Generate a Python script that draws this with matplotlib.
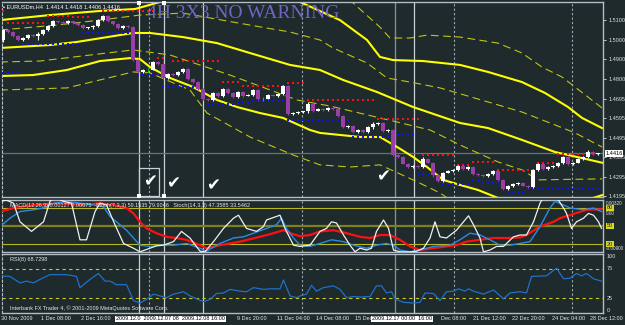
import matplotlib.pyplot as plt
import matplotlib.transforms as mtransforms
import numpy as np

plt.rcParams['font.family'] = ['Liberation Sans', 'DejaVu Sans']

#%% PODATKI - EURUSD H4, 120 svec

zacetek = 1.4998  # open prve svece
zapiranja = [1.5049, 1.5039, 1.5018, 1.4998, 1.5008, 1.5023, 1.5018, 1.5029, 1.5049, 1.5070,
             1.5095, 1.5090, 1.5085, 1.5095, 1.5085, 1.5075, 1.5059, 1.5064, 1.5070, 1.5100,
             1.5121, 1.5095, 1.5080, 1.5059, 1.5070, 1.5064, 1.4895, 1.4834, 1.4844, 1.4846,
             1.4885, 1.4875, 1.4803, 1.4823, 1.4818, 1.4834, 1.4849, 1.4798, 1.4782, 1.4746,
             1.4695, 1.4690, 1.4726, 1.4711, 1.4746, 1.4726, 1.4705, 1.4731, 1.4711, 1.4716,
             1.4741, 1.4695, 1.4697, 1.4716, 1.4711, 1.4721, 1.4762, 1.4618, 1.4623, 1.4628,
             1.4631, 1.4670, 1.4634, 1.4644, 1.4639, 1.4649, 1.4644, 1.4608, 1.4552, 1.4557,
             1.4526, 1.4536, 1.4526, 1.4552, 1.4567, 1.4572, 1.4531, 1.4536, 1.4408, 1.4398,
             1.4362, 1.4346, 1.4351, 1.4346, 1.4387, 1.4367, 1.4305, 1.4274, 1.4316, 1.4326,
             1.4331, 1.4351, 1.4336, 1.4346, 1.4310, 1.4305, 1.4300, 1.4310, 1.4326, 1.4280,
             1.4233, 1.4249, 1.4259, 1.4264, 1.4249, 1.4244, 1.4331, 1.4362, 1.4336, 1.4346,
             1.4351, 1.4367, 1.4398, 1.4362, 1.4367, 1.4387, 1.4398, 1.4425, 1.4414, 1.4416]

# senci (pipi)
senca_gor = [6, 4, 3, 5, 4, 6, 5, 8, 4, 5, 6, 3, 5, 4, 3, 4, 5, 3, 4, 6,
             5, 4, 3, 4, 5, 3, 4, 3, 5, 8, 6, 4, 3, 5, 4, 3, 6, 4, 3, 4,
             3, 5, 6, 4, 7, 4, 3, 5, 4, 3, 6, 4, 8, 3, 4, 3, 5, 3, 4, 6,
             3, 8, 4, 3, 4, 3, 4, 3, 5, 4, 3, 4, 3, 6, 9, 4, 3, 4, 3, 4,
             5, 3, 4, 3, 8, 4, 3, 4, 5, 3, 4, 6, 3, 7, 4, 3, 5, 4, 3, 4,
             3, 5, 3, 4, 3, 4, 6, 5, 4, 3, 4, 6, 5, 4, 3, 5, 4, 6, 4, 2]
senca_dol = [12, 5, 4, 6, 3, 5, 4, 22, 5, 4, 4, 5, 3, 6, 4, 5, 3, 4, 8, 4,
             3, 5, 4, 6, 3, 4, 5, 6, 3, 8, 4, 5, 6, 4, 3, 5, 4, 3, 6, 4,
             5, 3, 4, 6, 4, 3, 5, 4, 6, 3, 4, 6, 8, 4, 3, 5, 4, 6, 3, 4,
             5, 6, 4, 3, 5, 4, 3, 6, 4, 5, 4, 3, 5, 4, 12, 3, 4, 5, 6, 4,
             3, 5, 4, 6, 4, 3, 8, 6, 4, 3, 5, 4, 3, 6, 4, 5, 3, 4, 6, 5,
             4, 3, 5, 4, 3, 4, 5, 4, 3, 5, 4, 3, 5, 4, 6, 3, 4, 5, 4, 8]
doji = [29, 52]

# odpori (rdece) in podpore (modre): od, do, cena
odpori = [(0, 0, 1.5147), (1, 8, 1.5085), (9, 13, 1.5121), (14, 17, 1.5116), (20, 30, 1.5147),
          (31, 32, 1.4905), (34, 43, 1.4890), (44, 47, 1.4782), (48, 56, 1.4762), (57, 60, 1.4777),
          (61, 74, 1.4690), (75, 83, 1.4593), (84, 90, 1.4408), (91, 93, 1.4357), (94, 98, 1.4372),
          (99, 106, 1.4331), (107, 110, 1.4367), (111, 119, 1.4413)]
podpore = [(0, 3, 1.4829), (4, 15, 1.4977), (16, 25, 1.5034), (27, 31, 1.4823), (32, 39, 1.4757),
           (41, 46, 1.4670), (47, 49, 1.4675), (50, 56, 1.4685), (57, 69, 1.4587), (70, 77, 1.4500),
           (78, 82, 1.4510), (83, 86, 1.4305), (88, 93, 1.4259), (94, 95, 1.4280), (96, 100, 1.4264),
           (101, 104, 1.4213), (105, 119, 1.4233)]

# rumene krivulje (svecka, cena)
A_x = [-0.6, 9.4, 19.4, 26.4, 31.4, 39.4, 51.4, 57.4, 59.4, 67.4, 72.8, 75.4, 78, 84, 91.4, 97, 103.8, 108.4, 113, 115.8, 119.8]
A_y = [1.5100, 1.5126, 1.5147, 1.5157, 1.5193, 1.5244, 1.5244, 1.5213, 1.5193, 1.5100, 1.4998, 1.4911, 1.4895, 1.4890,
       1.4870, 1.4834, 1.4782, 1.4726, 1.4654, 1.4598, 1.4546]
B_x = [-0.6, 9.4, 14.8, 26, 29.4, 36, 42.8, 49.4, 57.4, 63.4, 68, 74.8, 82, 91.4, 97, 103.8, 110.4, 120]
B_y = [1.4957, 1.4972, 1.4988, 1.5034, 1.5034, 1.5013, 1.4982, 1.4931, 1.4870, 1.4844, 1.4793, 1.4731, 1.4654,
       1.4572, 1.4546, 1.4485, 1.4423, 1.4367]
C_x = [-0.6, 6, 12.8, 19.4, 25.4, 27.4, 29.4, 33.4, 38, 42.8, 46.8, 51.4, 56, 61.4, 63.4, 71.4, 75.4, 78.8, 82,
       84.8, 88, 91.4, 95, 99, 105.4, 113.4, 119.4, 120]
C_y = [1.4813, 1.4818, 1.4844, 1.4890, 1.4905, 1.4900, 1.4859, 1.4803, 1.4757, 1.4690, 1.4654, 1.4623, 1.4598,
       1.4536, 1.4521, 1.4500, 1.4500, 1.4449, 1.4398, 1.4346, 1.4280, 1.4254, 1.4228, 1.4187, 1.4151, 1.4151,
       1.4198, 1.4203]
D1_x = [68.4, 69.8, 75.4, 77.4, 81.4, 84.8, 91.4, 99, 103.8, 107.8, 111.8, 117, 119.8]
D1_y = [1.5229, 1.5193, 1.5064, 1.5008, 1.5008, 1.5023, 1.5013, 1.4982, 1.4931, 1.4859, 1.4808, 1.4705, 1.4649]
D2_x = [-0.6, 10.8, 19.4, 27.4, 36, 46, 52.8, 57.4, 63.4, 66, 72.8, 76.8, 81.4, 87.4, 97, 103.8, 110.4, 114.4, 119.8]
D2_y = [1.5049, 1.5075, 1.5100, 1.5126, 1.5136, 1.5090, 1.5059, 1.5039, 1.4998, 1.4957, 1.4880, 1.4803, 1.4782,
        1.4752, 1.4680, 1.4628, 1.4562, 1.4521, 1.4449]
D3_x = [-0.6, 7.4, 26, 33.4, 45.4, 58.8, 65.4, 78.8, 85.4, 91.4, 99, 103.8, 107, 119.8]
D3_y = [1.4885, 1.4890, 1.4947, 1.4921, 1.4818, 1.4690, 1.4659, 1.4577, 1.4536, 1.4459, 1.4372, 1.4331, 1.4280, 1.4285]
D4_x = [-0.6, 12.8, 26, 29.4, 37.4, 40.8, 49.4, 58, 63.4, 69.4, 75.4, 82, 87.4, 89.4]
D4_y = [1.4741, 1.4752, 1.4834, 1.4829, 1.4741, 1.4623, 1.4500, 1.4408, 1.4357, 1.4346, 1.4357, 1.4280, 1.4213, 1.4177]

# stohastika (svecka, vrednost)
bela_x = [-0.6, 0.7, 2.1, 3.4, 5.7, 8.1, 9.4, 10.4, 12.1, 13.7, 15.4, 16.7, 18.4, 19.4, 20.7, 22.4, 24.1, 26.1,
          27.4, 29.4, 30.7, 32.1, 34.1, 35.7, 37.4, 39.4, 40.4, 42.1, 44.1, 46.1, 47.1, 48.7, 50.7, 52.1, 52.7,
          55.4, 56.4, 58.1, 59.4, 61.4, 63.4, 64.7, 65.7, 66.7, 68.1, 69.4, 70.4, 71.4, 72.7, 73.7, 74.7, 76.1,
          77.1, 78.1, 79.4, 81.4, 82.7, 84.1, 85.4, 86.4, 87.4, 88.7, 90.7, 92.1, 93.1, 94.1, 95.4, 96.1, 97.4,
          98.7, 100.1, 102.1, 103.4, 104.7, 106.1, 107.4, 108.1, 110.7, 112.1, 112.7, 113.7, 114.7, 116.1,
          117.1, 118.1, 119.1, 119.7]
bela_y = [91, 93, 88, 57, 41, 57, 91, 98, 91, 88, 27, 27, 74, 88, 85, 52, 21, 13, 7, 13, 17, 18, 24, 41, 30, 8, 7,
          24, 46, 63, 68, 46, 41, 49, 60, 68, 46, 18, 16, 18, 41, 46, 57, 55, 35, 18, 7, 13, 10, 13, 41, 60, 46,
          10, 7, 7, 8, 13, 30, 57, 32, 30, 43, 57, 67, 52, 30, 7, 10, 16, 16, 32, 35, 35, 57, 88, 98, 98, 80,
          71, 46, 57, 63, 71, 68, 57, 46]
rdeca_x = [-0.6, 2.1, 6.1, 11.4, 16.1, 19.4, 22.1, 24.7, 26.1, 27.4, 28.7, 30.7, 32.7, 34.7, 36.7, 39.4, 40.7,
           43.4, 47.4, 51.4, 54.1, 56.1, 57.4, 59.4, 61.4, 63.4, 66.1, 68.7, 71.4, 73.4, 75.4, 77.4, 79.4, 81.4,
           83.4, 86.1, 88.7, 90.7, 92.7, 95.4, 98.1, 100.7, 103.4, 104.7, 107.4, 110.1, 111.4, 114.1, 116.7, 119.7]
rdeca_y = [74, 80, 85, 88, 85, 88, 85, 80, 71, 57, 46, 38, 32, 30, 27, 18, 13, 18, 24, 32, 38, 43, 38, 33, 35, 41,
           43, 38, 32, 30, 35, 35, 27, 16, 10, 13, 16, 18, 24, 27, 30, 30, 31, 35, 49, 57, 63, 70, 77, 78]
modra_x = [-0.6, 1.4, 3.4, 6.1, 8.1, 10.1, 12.7, 15.4, 18.1, 20.1, 21.4, 23.4, 24.7, 26.1, 27.4, 29.4, 31.4,
           34.1, 36.7, 39.4, 40.7, 43.4, 46.1, 48.1, 50.1, 52.7, 54.7, 55.7, 56.7, 58.1, 59.4, 61.4, 63.4, 65.7,
           68.1, 70.1, 72.7, 74.7, 76.7, 78.1, 79.4, 81.4, 83.4, 86.1, 89.4, 91.4, 93.4, 95.4, 97.4, 99.4, 101.4,
           103.4, 105.4, 107.4, 109.4, 110.4, 112.1, 113.4, 116.1, 118.1, 119.7]
modra_y = [49, 63, 74, 77, 80, 88, 91, 88, 85, 82, 66, 52, 43, 30, 18, 16, 18, 18, 21, 13, 8, 21, 30, 32, 38, 46,
           52, 63, 46, 30, 18, 16, 21, 27, 24, 18, 13, 18, 21, 18, 10, 7, 10, 16, 18, 27, 38, 35, 27, 18, 18, 21,
           24, 49, 80, 91, 85, 80, 77, 80, 74]

# RSI(8)
rsi_x = [-0.6, 1.4, 3.4, 4.7, 6.1, 7.4, 9.4, 12.7, 14.7, 15.4, 17.4, 19.1, 20.4, 21.4, 22.7, 24.7, 26.1, 27.4,
         28.7, 30.1, 31.4, 32.7, 34.1, 36.1, 37.4, 38.7, 40.1, 41.4, 42.7, 44.1, 45.4, 47.4, 48.7, 50.1, 52.1,
         53.4, 55.4, 56.1, 57.4, 58.7, 59.4, 60.7, 61.7, 62.7, 64.1, 66.1, 67.4, 68.7, 70.1, 71.4, 73.4, 74.7,
         75.7, 76.7, 77.7, 78.4, 80.1, 82.1, 83.4, 84.4, 86.1, 87.4, 88.7, 90.1, 91.1, 92.4, 93.1, 94.1, 96.1,
         98.1, 100.1, 101.4, 103.4, 104.7, 105.7, 108.7, 110.7, 112.1, 113.4, 114.7, 115.7, 116.7, 118.1, 119.7]
rsi_y = [63, 62, 51, 54, 51, 57, 65, 65, 62, 43, 57, 67, 54, 54, 48, 48, 21, 17, 23, 32, 29, 26, 32, 36, 29, 24,
         19, 23, 33, 34, 40, 37, 36, 43, 40, 41, 41, 56, 29, 26, 29, 32, 47, 37, 43, 46, 40, 26, 28, 27, 28, 46,
         46, 34, 36, 24, 18, 17, 18, 34, 33, 21, 36, 37, 41, 37, 41, 37, 32, 39, 24, 34, 36, 34, 62, 63, 76, 58,
         59, 67, 63, 67, 58, 54]

# cenovna os in casovna os
cene_ticks = [1.5100, 1.5000, 1.4900, 1.4800, 1.4695, 1.4595, 1.4495, 1.4395, 1.4295, 1.4195]
cas_pos = [-0.4, 7.6, 15.6, 46.8, 54.8, 62.6, 70.4, 87.6, 94.0, 101.8, 109.8, 117.4]
cas_txt = ['30 Nov 2009', '1 Dec 08:00', '2 Dec 16:00', '9 Dec 20:00', '11 Dec 04:00', '14 Dec 08:00',
           '15 Dec', 'Dec 08:00', '21 Dec 12:00', '22 Dec 20:00', '24 Dec 04:00', '28 Dec 12:00']

# oznake na grafu
vert_polne = [27.2, 32.2, 40.0, 82.2]
vert_sive = [78.4]
vert_crt = [29.2, 59.8, 90.2, 113.8]
kljukice_x = [29.4, 34.0, 42.0, 76.0]
kljukice_y = [1.4274, 1.4264, 1.4249, 1.4300]
zadnja = 1.4416

#%% IZRIS

bg = '#1e2a2c'
siva = '#b4bcc4'
fs = 4

fig = plt.figure(figsize=(6.25, 3.25), dpi=100, facecolor=bg)

def okno(top, bottom):
    a = fig.add_axes([2/625, 1 - bottom/325, 601/625, (bottom - top)/325])
    a.set_facecolor(bg)
    a.set_xlim(-0.2, 120)
    a.set_xticks([])
    for s in ['top', 'bottom', 'right']:
        a.spines[s].set_color(siva)
        a.spines[s].set_linewidth(1.0)
    a.spines['left'].set_color(siva)
    a.spines['left'].set_linestyle((0, (2, 2)))
    a.spines['left'].set_linewidth(0.8)
    return a

ax = okno(2, 197)
ax_st = okno(200, 252)
ax_rsi = okno(254, 313)

# navpicne crte
for a in (ax, ax_st, ax_rsi):
    for v in vert_polne:
        a.axvline(v, color='#c8d0d8', lw=0.9, zorder=1)
    for v in vert_sive:
        a.axvline(v, color='#828c92', lw=1.0, zorder=1)
    for v in vert_crt:
        a.axvline(v, color='#a0a8b0', lw=0.8, ls=(0, (2, 2)), zorder=1)

# glavni graf
ax.set_ylim(1.4192, 1.5193)
ax.axhline(zadnja, color='#6a7478', lw=0.9, zorder=1)

for xs, ys in [(D1_x, D1_y), (D2_x, D2_y), (D3_x, D3_y), (D4_x, D4_y)]:
    ax.plot(xs, ys, color='#c4c412', lw=0.8, ls=(0, (7, 4)), zorder=2)
for xs, ys in [(A_x, A_y), (B_x, B_y), (C_x, C_y)]:
    ax.plot(xs, ys, color='#ffff00', lw=1.5, zorder=2)

for a0, a1, p in odpori:
    xx = np.arange(a0, a1 + 1)
    ax.plot(xx, [p] * len(xx), 's', ms=2.0, mew=0, color='#ff1010', zorder=3)
for a0, a1, p in podpore:
    xx = np.arange(a0, a1 + 1)
    ax.plot(xx, [p] * len(xx), 's', ms=2.0, mew=0, color='#1010ff', zorder=3)

c = np.array(zapiranja)
o = np.concatenate([[zacetek], c[:-1]])
hi = np.maximum(o, c) + np.array(senca_gor) * 0.0001
lo = np.minimum(o, c) - np.array(senca_dol) * 0.0001
xb = np.arange(len(c))
barve = np.where(c >= o, '#ffffff', '#9a3ea8').astype(object)
for d in doji:
    barve[d] = '#00d000'
ax.vlines(xb, lo, hi, colors=list(barve), lw=0.8, zorder=4)
visina = np.where(np.abs(c - o) < 0.0002, 0.0002, np.abs(c - o))
ax.bar(xb, visina, bottom=np.minimum(o, c), width=0.62, color=list(barve), lw=0, zorder=5)

ax.yaxis.tick_right()
ax.set_yticks(cene_ticks)
ax.set_yticklabels(['%.4f' % t for t in cene_ticks])
ax.tick_params(axis='y', colors='#e0e0e0', labelsize=fs, length=2, width=0.6, pad=2)
ax.text(1.004, (zadnja - 1.4192) / (1.5193 - 1.4192), '1.4416', transform=ax.transAxes, fontsize=fs,
        color='black', va='center', ha='left',
        bbox=dict(boxstyle='square,pad=0.15', fc='white', ec='none'))

# pravokotnik in kljukice
ax.add_patch(plt.Rectangle((27.2, 1.4197), 4.0, 0.0144, fill=False, ec='#c8d0d8', lw=0.9, zorder=6))
for xv in [27.2, 32.2]:
    ax.plot([xv, xv], [1.5190, 1.4196], 's', ms=2.2, color='white', mew=0, zorder=7, clip_on=False)
for kx, ky in zip(kljukice_x, kljukice_y):
    ax.text(kx, ky, '\u2714', color='white', fontsize=12, ha='center', va='center', zorder=7,
            family='DejaVu Sans')

fig.text(3/625, 1 - 7/325, '\u25aa EURUSDm,H4  1.4414 1.4418 1.4406 1.4416', color='white', fontsize=fs,
         va='center', ha='left')
fig.text(147/625, 1 - 13/325, '4H 3X3 NO WARNING', color='#7064c4', fontsize=14,
         family='Liberation Serif', va='center', ha='left')

# stohastika
ax_st.set_ylim(6.7, 93.3)
ax_st.axhline(80, color='#b8b820', lw=0.8)
ax_st.axhline(50, color='#80801a', lw=1.6)
ax_st.axhline(20, color='#b8b820', lw=0.8)
ax_st.plot(rdeca_x, rdeca_y, color='#ff1010', lw=1.6, zorder=3)
ax_st.plot(modra_x, modra_y, color='#2a8ae8', lw=1.0, zorder=4)
ax_st.plot(bela_x, bela_y, color='#f0f0f0', lw=0.9, zorder=5)
ax_st.set_yticks([])
ax_st.text(0.014, 0.9, 'MACD(12,26,9) 0.00127 0.00075   Stoch(7,3,3) 59.1535 79.9046   Stoch(14,3,3) 47.3585 33.5462',
           transform=ax_st.transAxes, color='#e8e8e8', fontsize=fs, va='center', zorder=6)
for v, t in [(88, '0.00320'), (70, '0.00'), (13, '-0.00900')]:
    ax_st.text(120.6, v, t, color='#e0e0e0', fontsize=3.4, va='center', ha='left', clip_on=False)
for v in [80, 50, 20]:
    ax_st.text(120.8, v, str(v), color='#202020', fontsize=fs, va='center', ha='left', clip_on=False,
               bbox=dict(boxstyle='square,pad=0.1', fc='#d8d820', ec='none'))

# RSI
ax_rsi.set_ylim(0, 100)
ax_rsi.axhline(75, color='#c8c818', lw=0.8, ls=(0, (3, 3)))
ax_rsi.axhline(25, color='#c8c818', lw=0.8, ls=(0, (3, 3)))
ax_rsi.plot(rsi_x, rsi_y, color='#2070c8', lw=0.9, zorder=3)
ax_rsi.set_yticks([])
ax_rsi.text(0.014, 0.9, 'RSI(8) 68.7298', transform=ax_rsi.transAxes, color='#e8e8e8', fontsize=fs, va='center')
ax_rsi.text(0.014, 0.09, 'Interbank FX Trader 4, \u00a9 2001-2009 MetaQuotes Software Corp.',
            transform=ax_rsi.transAxes, color='#e8e8e8', fontsize=fs, va='center')
for v, t in [(95, '100'), (75, '75'), (25, '25'), (5, '0')]:
    ax_rsi.text(120.8, v, t, color='#e0e0e0', fontsize=fs, va='center', ha='left', clip_on=False)

# casovna os
tr = mtransforms.blended_transform_factory(ax_rsi.transData, ax_rsi.transAxes)
for p, t in zip(cas_pos, cas_txt):
    ax_rsi.text(p, -0.1, t, transform=tr, color='#e8e8e8', fontsize=fs, va='center', ha='left', clip_on=False)
ax_rsi.text(22.6, -0.1, '2009.12.0  2009.12.07 08  2009.12.08 16:00', transform=tr, color='black',
            fontsize=fs, va='center', ha='left', clip_on=False,
            bbox=dict(boxstyle='square,pad=0.15', fc='white', ec='none'))
ax_rsi.text(73.8, -0.1, '2009.12.17 00:00  16:00', transform=tr, color='black',
            fontsize=fs, va='center', ha='left', clip_on=False,
            bbox=dict(boxstyle='square,pad=0.15', fc='white', ec='none'))

fig.savefig('out.png', dpi=100, facecolor=bg)
